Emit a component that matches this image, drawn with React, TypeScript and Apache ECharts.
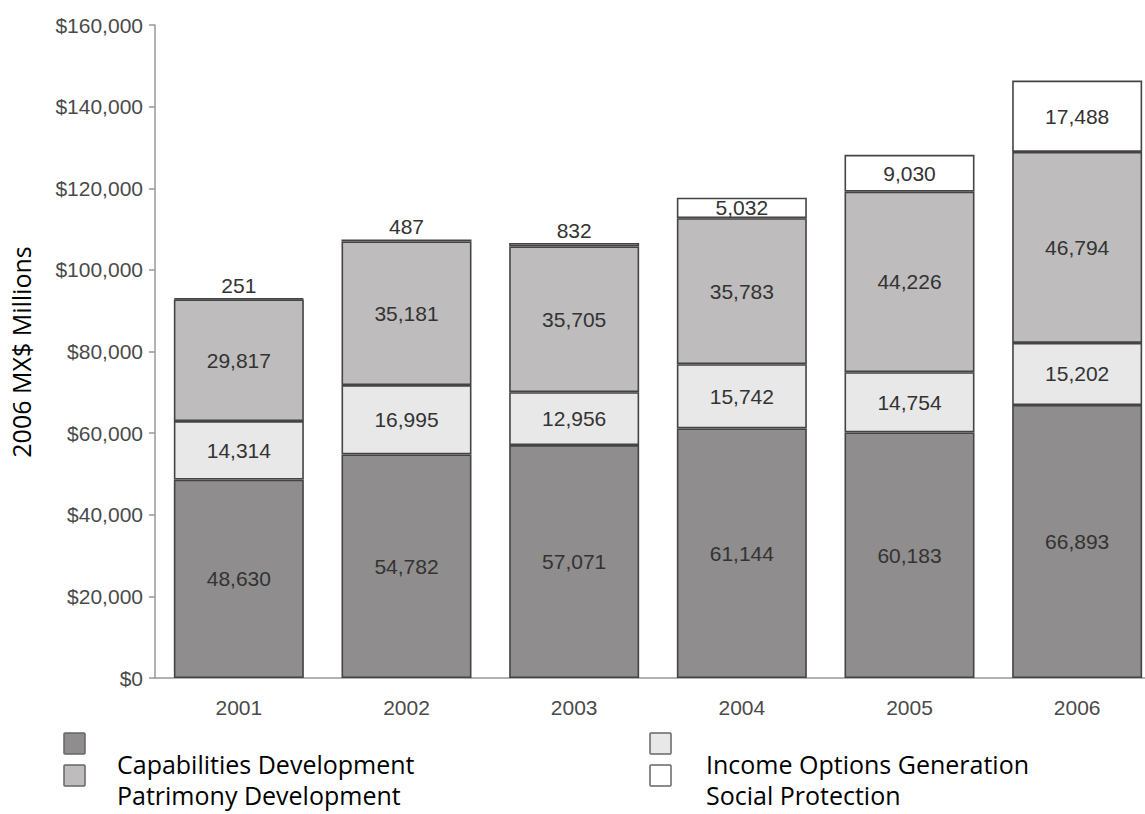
import React, { useEffect, useRef } from "react";
import * as echarts from "echarts";

const years = ["2001", "2002", "2003", "2004", "2005", "2006"];
const capabilities = [48630, 54782, 57071, 61144, 60183, 66893];
const incomeOptions = [14314, 16995, 12956, 15742, 14754, 15202];
const patrimony = [29817, 35181, 35705, 35783, 44226, 46794];
const socialProtection = [251, 487, 832, 5032, 9030, 17488];

const seriesNames = [
  "Capabilities Development",
  "Income Options Generation",
  "Patrimony Development",
  "Social Protection",
];
const seriesColors = ["#8f8d8d", "#e8e8e8", "#bebcbc", "#ffffff"];

const yTicks = [0, 20000, 40000, 60000, 80000, 100000, 120000, 140000, 160000];

const fmt = (v: number) => v.toLocaleString("en-US");

export default function App() {
  const ref = useRef<HTMLDivElement>(null);
  useEffect(() => {
    if (!ref.current) return;
    const chart = echarts.init(ref.current, undefined, { renderer: "svg" });
    const labelFont = { fontFamily: "Liberation Sans", fontSize: 21, color: "#333" };
    const allData = [capabilities, incomeOptions, patrimony, socialProtection];
    const series = allData.map((arr, si) => ({
      name: seriesNames[si],
      type: "bar",
      stack: "total",
      barWidth: 130,
      itemStyle: { color: seriesColors[si], borderColor: "#444", borderWidth: 1.6 },
      label: {
        show: true,
        position: "inside",
        ...labelFont,
        formatter: (p: any) => fmt(p.value),
      },
      data: arr.map((v) =>
        v < 2000 ? { value: v, label: { position: "top", distance: 2 } } : v
      ),
    }));

    const legendItems: any[] = [];
    const legendPos = [
      { sx: 64, sy: 733, tx: 117, ty: 764 },
      { sx: 650, sy: 733, tx: 706, ty: 764 },
      { sx: 64, sy: 765, tx: 117, ty: 795 },
      { sx: 650, sy: 765, tx: 706, ty: 795 },
    ];
    [0, 1, 2, 3].forEach((si, k) => {
      const p = legendPos[k];
      legendItems.push({
        type: "rect",
        shape: { x: p.sx, y: p.sy, width: 21, height: 21, r: 1 },
        style: { fill: seriesColors[si], stroke: "#666", lineWidth: 1.5 },
      });
      legendItems.push({
        type: "text",
        x: p.tx,
        y: p.ty,
        style: {
          text: seriesNames[si],
          font: '25px "Open Sans"',
          fill: "#000",
          align: "left",
          verticalAlign: "middle",
        },
      });
    });

    chart.setOption({
      animation: false,
      backgroundColor: "#fff",
      grid: { left: 155, top: 25, height: 653, width: 1006 },
      xAxis: {
        type: "category",
        data: years,
        axisLine: { show: true, lineStyle: { color: "#999", width: 1.5 } },
        axisTick: { show: false },
        axisLabel: { fontFamily: "Liberation Sans", fontSize: 21, color: "#4a4a4a", margin: 19 },
      },
      yAxis: {
        type: "value",
        min: yTicks[0],
        max: yTicks[yTicks.length - 1],
        interval: yTicks[1] - yTicks[0],
        axisLine: { show: true, lineStyle: { color: "#999", width: 1.5 } },
        axisTick: { show: true, length: 6, lineStyle: { color: "#999", width: 1.5 } },
        splitLine: { show: false },
        axisLabel: {
          fontFamily: "Liberation Sans",
          fontSize: 21,
          color: "#4a4a4a",
          margin: 12,
          formatter: (v: number) => "$" + fmt(v),
        },
      },
      series,
      graphic: [
        {
          type: "text",
          x: 21,
          y: 352,
          rotation: Math.PI / 2,
          style: {
            text: "2006 MX$ Millions",
            font: '25px "Open Sans"',
            fill: "#000",
            align: "center",
            verticalAlign: "middle",
          },
        },
        ...legendItems,
      ],
    });
    return () => chart.dispose();
  }, []);
  return (
    <div
      style={{ position: "absolute", left: 0, top: 0, width: 1145, height: 814, overflow: "hidden", background: "#fff" }}
    >
      <div ref={ref} style={{ width: 1200, height: 814 }} />
    </div>
  );
}
